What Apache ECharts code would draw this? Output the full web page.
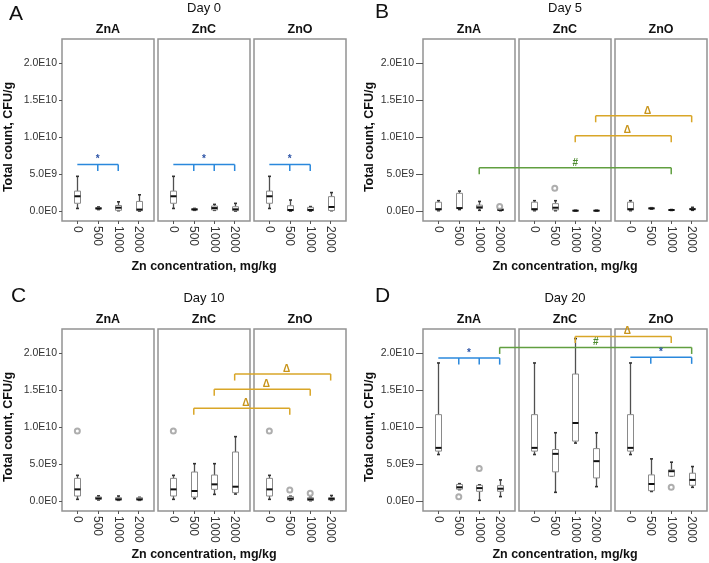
<!DOCTYPE html>
<html>
<head>
<meta charset="utf-8">
<script src="https://cdn.jsdelivr.net/npm/echarts@6.0.0/dist/echarts.min.js"></script>
<style>
html, body { margin: 0; padding: 0; background: #fff; }
#chart { width: 709px; height: 563px; }
</style>
</head>
<body>
<div id="chart"></div>
<script>
// 数据 (数值单位: 1E9 CFU/g)
const facets = ['ZnA', 'ZnC', 'ZnO'];
const concentrations = ['0', '500', '1000', '2000'];
const dayTitles = ['Day 0', 'Day 5', 'Day 10', 'Day 20'];
const panelLetters = ['A', 'B', 'C', 'D'];
const yTicks = [0, 5, 10, 15, 20];

// 每个箱线: [min, Q1, median, Q3, max]
const day0Control = [0.35, 1.05, 2.0, 2.7, 4.7];
const day0Boxes = [
    [day0Control, [0.2, 0.28, 0.35, 0.45, 0.55], [0.05, 0.1, 0.45, 0.75, 1.25], [0, 0.05, 0.2, 1.3, 2.2]],
    [day0Control, [0.1, 0.15, 0.22, 0.3, 0.35], [0.1, 0.15, 0.4, 0.68, 0.9], [0, 0.05, 0.23, 0.58, 1.04]],
    [day0Control, [0, 0.05, 0.14, 0.72, 1.49], [0, 0.05, 0.15, 0.5, 0.6], [0.05, 0.08, 0.55, 1.95, 2.5]]
];
const day0Outliers = []; // [facet, conc, value]

const day5Control = [0.05, 0.15, 0.25, 1.2, 1.4];
const day5Boxes = [
    [day5Control, [0.2, 0.35, 0.4, 2.4, 2.7], [0.1, 0.35, 0.5, 0.8, 1.3], [0.05, 0.1, 0.15, 0.3, 0.35]],
    [day5Control, [0.05, 0.15, 0.45, 1.0, 1.4], [0, 0.02, 0.05, 0.08, 0.1], [0, 0.02, 0.05, 0.08, 0.1]],
    [day5Control, [0.25, 0.3, 0.36, 0.42, 0.45], [0.08, 0.1, 0.14, 0.18, 0.2], [0.1, 0.2, 0.25, 0.35, 0.5]]
];
const day5Outliers = [[0, 3, 0.6], [1, 1, 3.1]];

const day10Control = [0.23, 0.68, 1.58, 3.07, 3.48];
const day10Boxes = [
    [day10Control, [0.15, 0.25, 0.35, 0.55, 0.7], [0.1, 0.14, 0.23, 0.45, 0.68], [0.1, 0.14, 0.23, 0.45, 0.5]],
    [day10Control, [0.32, 0.54, 1.36, 3.93, 5.06], [0.9, 1.58, 2.26, 3.52, 5.06], [0.95, 1.13, 1.94, 6.64, 8.72]],
    [day10Control, [0.1, 0.14, 0.32, 0.59, 0.65], [0.05, 0.09, 0.23, 0.45, 0.5], [0.1, 0.14, 0.3, 0.45, 0.75]]
];
const day10Outliers = [[0, 0, 9.5], [1, 0, 9.5], [2, 0, 9.5], [2, 1, 1.49], [2, 2, 1.04]];

const day20Control = [6.3, 6.76, 7.2, 11.7, 18.7];
const day20Boxes = [
    [day20Control, [1.55, 1.6, 1.86, 2.25, 2.35], [0.1, 1.32, 1.75, 2.13, 2.2], [0.6, 1.32, 1.67, 2.08, 2.86]],
    [day20Control, [1.18, 3.95, 6.39, 6.98, 9.25], [7.85, 8.12, 10.57, 17.2, 22.0], [1.95, 3.13, 5.4, 7.1, 9.25]],
    [day20Control, [1.3, 1.4, 2.31, 3.54, 5.71], [3.36, 3.36, 4.04, 4.22, 5.26], [1.86, 2.13, 2.86, 3.77, 4.67]]
];
const day20Outliers = [[0, 1, 0.59], [0, 2, 4.4], [2, 2, 1.86]];

// 显著性标记: from/to/drops 为 [facet, conc], level 为横线高度
const day0Sig = [
    { label: '*', from: [0, 0], to: [0, 2], drops: [[0, 1], [0, 2]], level: 6.3 },
    { label: '*', from: [1, 0], to: [1, 3], drops: [[1, 1], [1, 2], [1, 3]], level: 6.3 },
    { label: '*', from: [2, 0], to: [2, 2], drops: [[2, 1], [2, 2]], level: 6.3 }
];
const day5Sig = [
    { label: '#', from: [0, 2], to: [2, 2], drops: [[0, 2], [2, 2]], level: 5.85 },
    { label: 'Δ', from: [1, 2], to: [2, 2], drops: [[1, 2], [2, 2]], level: 10.2 },
    { label: 'Δ', from: [1, 3], to: [2, 3], drops: [[1, 3], [2, 3]], level: 12.9 }
];
const day10Sig = [
    { label: 'Δ', from: [1, 1], to: [2, 1], drops: [[1, 1], [2, 1]], level: 12.56 },
    { label: 'Δ', from: [1, 2], to: [2, 2], drops: [[1, 2], [2, 2]], level: 15.13 },
    { label: 'Δ', from: [1, 3], to: [2, 3], drops: [[1, 3], [2, 3]], level: 17.2 }
];
const day20Sig = [
    { label: '*', from: [0, 0], to: [0, 3], drops: [[0, 1], [0, 2], [0, 3]], level: 19.36 },
    { label: '#', from: [0, 3], to: [2, 3], drops: [[0, 3], [2, 3]], level: 20.8 },
    { label: 'Δ', from: [1, 2], to: [2, 2], drops: [[1, 2], [2, 2]], level: 22.27 },
    { label: '*', from: [2, 0], to: [2, 3], drops: [[2, 1], [2, 3]], level: 19.46 }
];

const allBoxes = [day0Boxes, day5Boxes, day10Boxes, day20Boxes];
const allOutliers = [day0Outliers, day5Outliers, day10Outliers, day20Outliers];
const allSig = [day0Sig, day5Sig, day10Sig, day20Sig];

// 布局
const FONT = 'Liberation Sans';
const frameLefts = [62, 158, 254];
const frameW = 92;
const frameH = 182;
const panelLayout = [
    { ox: 0, top: 39, letterX: 9, letterY: 14, tickLen: 3, labelMargin: 5, xTitleY: 267 },
    { ox: 361, top: 39, letterX: 375, letterY: 12, tickLen: 7, labelMargin: 9, xTitleY: 267 },
    { ox: 0, top: 329, letterX: 11, letterY: 296, tickLen: 3, labelMargin: 5, xTitleY: 555 },
    { ox: 361, top: 329, letterX: 375, letterY: 296, tickLen: 7, labelMargin: 9, xTitleY: 555 }
];
const sigColors = {
    '*': { line: '#2a88dc', text: '#2c53a6' },
    '#': { line: '#619f40', text: '#4c8a2e' },
    'Δ': { line: '#d9a628', text: '#c8941a' }
};

function formatE(v) {
    if (v === 0) return '0.0E0';
    const raw = v * 1e9;
    const e = Math.floor(Math.log10(raw) + 1e-9);
    return (raw / Math.pow(10, e)).toFixed(1) + 'E' + e;
}

function renderBox(params, api) {
    const x = api.value(0);
    const pMin = api.coord([x, api.value(1)]);
    const pQ1 = api.coord([x, api.value(2)]);
    const pMed = api.coord([x, api.value(3)]);
    const pQ3 = api.coord([x, api.value(4)]);
    const pMax = api.coord([x, api.value(5)]);
    const cx = Math.round(pMed[0]) + 0.5;
    const hw = 3, cap = 1.5;
    const whisker = { stroke: '#505050', lineWidth: 1.3 };
    const capStyle = { stroke: '#333', lineWidth: 1.6 };
    return {
        type: 'group',
        children: [
            { type: 'line', shape: { x1: cx, y1: pMax[1], x2: cx, y2: pQ3[1] }, style: whisker },
            { type: 'line', shape: { x1: cx, y1: pQ1[1], x2: cx, y2: pMin[1] }, style: whisker },
            { type: 'line', shape: { x1: cx - cap, y1: pMax[1], x2: cx + cap, y2: pMax[1] }, style: capStyle },
            { type: 'line', shape: { x1: cx - cap, y1: pMin[1], x2: cx + cap, y2: pMin[1] }, style: capStyle },
            { type: 'rect', shape: { x: cx - hw, y: pQ3[1], width: hw * 2, height: pQ1[1] - pQ3[1] },
              style: { fill: '#fff', stroke: '#8a8a8a', lineWidth: 1 } },
            { type: 'line', shape: { x1: cx - hw, y1: pMed[1], x2: cx + hw, y2: pMed[1] },
              style: { stroke: '#111', lineWidth: 2 } }
        ]
    };
}

const chart = echarts.init(document.getElementById('chart'));
const grids = [], xAxes = [], yAxes = [], series = [], texts = [];

panelLayout.forEach((lay, p) => {
    facets.forEach((facet, f) => {
        const gi = p * 3 + f;
        const left = lay.ox + frameLefts[f];
        grids.push({
            left: left, top: lay.top, width: frameW, height: frameH,
            show: true, borderColor: '#939393', borderWidth: 1.5, backgroundColor: '#fff',
            containLabel: false, outerBoundsMode: 'none'
        });
        xAxes.push({
            type: 'value', gridIndex: gi, min: -0.75, max: 3.75, position: 'bottom',
            axisLine: { show: false, onZero: false },
            splitLine: { show: false },
            axisTick: { show: true, customValues: [0, 1, 2, 3], length: 3, lineStyle: { color: '#555' } },
            axisLabel: {
                customValues: [0, 1, 2, 3], rotate: -90, margin: 5,
                formatter: v => concentrations[Math.round(v)],
                fontFamily: FONT, fontSize: 12, color: '#333'
            }
        });
        yAxes.push({
            type: 'value', gridIndex: gi, min: -1.35, max: 23.3, position: 'left',
            axisLine: { show: false, onZero: false },
            splitLine: { show: false },
            axisTick: { show: f === 0, customValues: yTicks, length: lay.tickLen, lineStyle: { color: '#555' } },
            axisLabel: {
                show: f === 0, customValues: yTicks, margin: lay.labelMargin,
                formatter: formatE, fontFamily: FONT, fontSize: 10.5, color: '#333'
            }
        });
        series.push({
            type: 'custom', xAxisIndex: gi, yAxisIndex: gi,
            renderItem: renderBox,
            encode: { x: 0, y: [1, 2, 3, 4, 5] },
            data: allBoxes[p][f].map((b, c) => [c].concat(b)),
            z: 3
        });
        series.push({
            type: 'scatter', xAxisIndex: gi, yAxisIndex: gi,
            symbol: 'emptyCircle', symbolSize: 5,
            itemStyle: { color: '#9a9a9a', borderWidth: 0.9 },
            data: allOutliers[p].filter(o => o[0] === f).map(o => [o[1], o[2]]),
            z: 4
        });
        // 分面标题
        texts.push({
            type: 'text', x: left + frameW / 2, y: lay.top - 9,
            style: { text: facet, font: 'bold 12.5px ' + FONT, fill: '#111', align: 'center', verticalAlign: 'middle' }
        });
    });
    const centerX = lay.ox + (frameLefts[0] + frameLefts[2] + frameW) / 2;
    texts.push({
        type: 'text', x: lay.letterX, y: lay.letterY,
        style: { text: panelLetters[p], font: '21px ' + FONT, fill: '#111', verticalAlign: 'middle' }
    });
    texts.push({
        type: 'text', x: centerX, y: lay.top - 31,
        style: { text: dayTitles[p], font: '13px ' + FONT, fill: '#111', align: 'center', verticalAlign: 'middle' }
    });
    texts.push({
        type: 'text', x: centerX, y: lay.xTitleY,
        style: { text: 'Zn concentration, mg/kg', font: 'bold 12.5px ' + FONT, fill: '#111', align: 'center', verticalAlign: 'middle' }
    });
    texts.push({
        type: 'text', x: lay.ox + 9, y: lay.top + 98, rotation: Math.PI / 2,
        style: { text: 'Total count, CFU/g', font: 'bold 12.5px ' + FONT, fill: '#111', align: 'center', verticalAlign: 'middle' }
    });
});

chart.setOption({
    animation: false,
    grid: grids,
    xAxis: xAxes,
    yAxis: yAxes,
    series: series
});

// 显著性括号: 通过坐标系换算像素位置
const dropLen = 0.88;
const brackets = [];
allSig.forEach((sigs, p) => {
    sigs.forEach(s => {
        const col = sigColors[s.label];
        const px = (fc, v) => chart.convertToPixel({ gridIndex: p * 3 + fc[0] }, [fc[1], v]);
        const a = px(s.from, s.level);
        const b = px(s.to, s.level);
        const lineStyle = { stroke: col.line, lineWidth: 1.5 };
        brackets.push({ type: 'line', z: 10, shape: { x1: a[0], y1: a[1], x2: b[0], y2: b[1] }, style: lineStyle });
        s.drops.forEach(d => {
            const t = px(d, s.level);
            const u = px(d, s.level - dropLen);
            brackets.push({ type: 'line', z: 10, shape: { x1: t[0], y1: t[1], x2: u[0], y2: u[1] }, style: lineStyle });
        });
        const dx = s.label === 'Δ' ? 4 : 0;
        brackets.push({
            type: 'text', z: 11, x: (a[0] + b[0]) / 2 + dx, y: a[1] - 5,
            style: { text: s.label, font: 'bold 10px ' + FONT, fill: col.text, align: 'center', verticalAlign: 'middle' }
        });
    });
});

chart.setOption({ graphic: texts.concat(brackets) });
</script>
</body>
</html>
